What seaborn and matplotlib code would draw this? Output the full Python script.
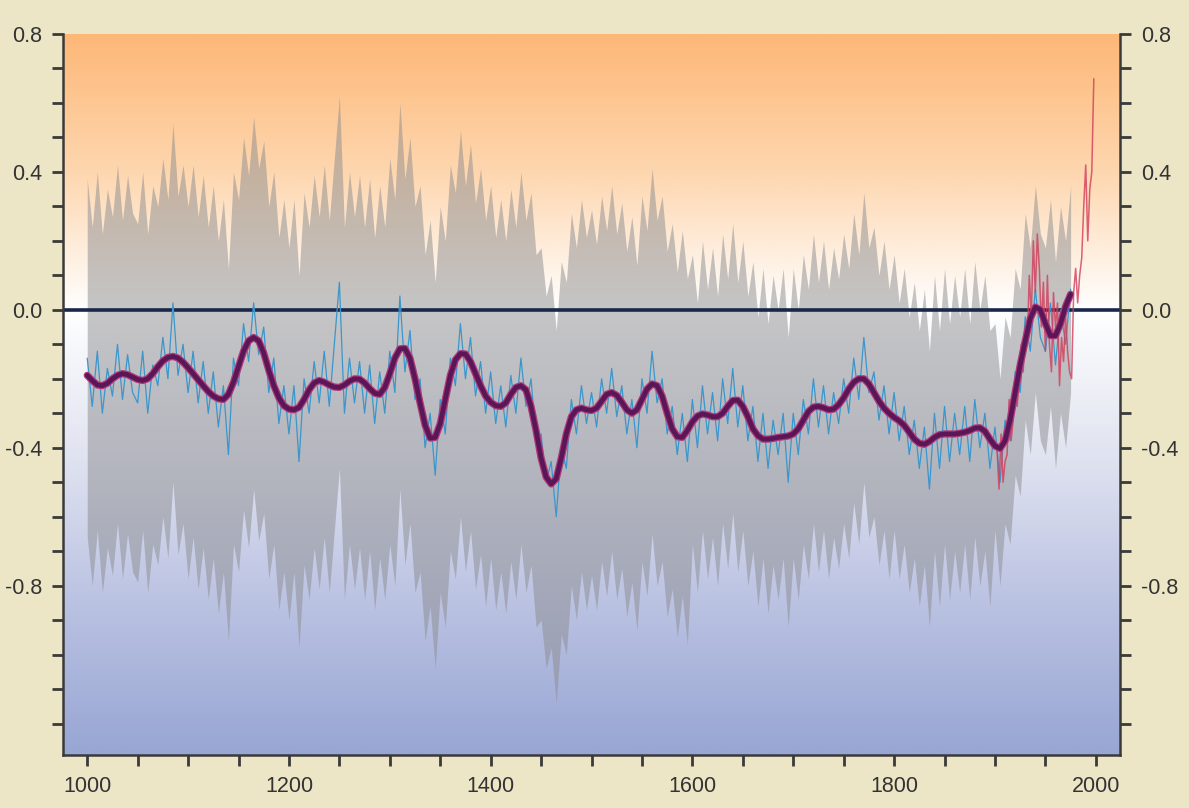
import matplotlib
matplotlib.use("Agg")
import matplotlib.pyplot as plt
import seaborn as sns
import numpy as np
import pandas as pd
from matplotlib.colors import LinearSegmentedColormap
from matplotlib.ticker import MultipleLocator

# Reconstruction (annual series sampled every 5 years), 1000-1975
recon_years = list(range(1000, 1980, 5))
recon_values = [
    -0.14, -0.28, -0.12, -0.30, -0.17, -0.25, -0.10, -0.26, -0.13, -0.24,
    -0.27, -0.12, -0.30, -0.16, -0.22, -0.08, -0.20, 0.02, -0.19, -0.10,
    -0.24, -0.12, -0.27, -0.15, -0.30, -0.18, -0.34, -0.22, -0.42, -0.14,
    -0.22, -0.04, -0.15, 0.02, -0.13, -0.05, -0.24, -0.14, -0.33, -0.22,
    -0.36, -0.22, -0.44, -0.20, -0.30, -0.15, -0.27, -0.12, -0.28, -0.10,
    0.08, -0.30, -0.14, -0.27, -0.15, -0.30, -0.16, -0.33, -0.18, -0.30,
    -0.12, -0.24, 0.04, -0.18, -0.06, -0.26, -0.20, -0.40, -0.30, -0.48,
    -0.26, -0.36, -0.14, -0.22, -0.04, -0.20, -0.08, -0.25, -0.15, -0.30,
    -0.18, -0.33, -0.22, -0.34, -0.19, -0.30, -0.14, -0.28, -0.20, -0.38,
    -0.36, -0.50, -0.44, -0.60, -0.40, -0.46, -0.26, -0.36, -0.22, -0.33,
    -0.24, -0.34, -0.20, -0.30, -0.17, -0.31, -0.22, -0.36, -0.26, -0.40,
    -0.20, -0.30, -0.12, -0.27, -0.20, -0.36, -0.28, -0.42, -0.30, -0.44,
    -0.26, -0.40, -0.22, -0.36, -0.24, -0.38, -0.20, -0.33, -0.17, -0.34,
    -0.22, -0.38, -0.28, -0.44, -0.30, -0.46, -0.32, -0.42, -0.30, -0.50,
    -0.30, -0.42, -0.26, -0.36, -0.20, -0.34, -0.22, -0.36, -0.24, -0.33,
    -0.20, -0.30, -0.14, -0.26, -0.08, -0.24, -0.18, -0.32, -0.22, -0.36,
    -0.24, -0.38, -0.28, -0.42, -0.32, -0.46, -0.34, -0.52, -0.30, -0.46,
    -0.28, -0.44, -0.30, -0.42, -0.28, -0.44, -0.26, -0.40, -0.30, -0.46,
    -0.34, -0.50, -0.32, -0.38, -0.18, -0.24, -0.02, -0.12, 0.06, -0.08,
    -0.12, 0.02, -0.16, 0.00, -0.10, 0.06,
]

# 2-sigma half width of the uncertainty band, per century
band_centuries = [1000, 1100, 1200, 1300, 1400, 1500, 1600, 1700, 1800, 1900]
band_halfwidth = [0.52, 0.54, 0.54, 0.56, 0.54, 0.53, 0.42, 0.42, 0.40, 0.30]

# 40-year smoothed reconstruction, every 5 years
smooth_years = list(range(1000, 1980, 5))
smooth_values = [
    -0.190, -0.205, -0.218, -0.220, -0.213, -0.200, -0.190, -0.185, -0.188, -0.195,
    -0.202, -0.205, -0.200, -0.185, -0.165, -0.148, -0.138, -0.135, -0.140, -0.152,
    -0.168, -0.185, -0.203, -0.220, -0.237, -0.250, -0.258, -0.260, -0.245, -0.210,
    -0.165, -0.120, -0.090, -0.080, -0.090, -0.125, -0.175, -0.220, -0.255, -0.278,
    -0.288, -0.290, -0.283, -0.260, -0.232, -0.212, -0.205, -0.210, -0.218, -0.224,
    -0.225, -0.218, -0.207, -0.200, -0.201, -0.212, -0.228, -0.242, -0.245, -0.225,
    -0.185, -0.140, -0.113, -0.112, -0.140, -0.200, -0.270, -0.335, -0.372, -0.370,
    -0.330, -0.260, -0.190, -0.145, -0.127, -0.128, -0.150, -0.185, -0.220, -0.250,
    -0.268, -0.278, -0.280, -0.270, -0.245, -0.225, -0.220, -0.232, -0.280, -0.350,
    -0.430, -0.485, -0.505, -0.490, -0.430, -0.360, -0.310, -0.290, -0.285, -0.290,
    -0.292, -0.285, -0.265, -0.245, -0.240, -0.248, -0.268, -0.290, -0.300, -0.290,
    -0.260, -0.230, -0.215, -0.220, -0.250, -0.300, -0.345, -0.368, -0.370, -0.350,
    -0.325, -0.308, -0.302, -0.305, -0.310, -0.310, -0.300, -0.280, -0.263, -0.262,
    -0.280, -0.310, -0.345, -0.365, -0.375, -0.375, -0.373, -0.370, -0.368, -0.366,
    -0.360, -0.345, -0.320, -0.295, -0.282, -0.280, -0.284, -0.290, -0.288, -0.275,
    -0.255, -0.230, -0.210, -0.200, -0.200, -0.215, -0.240, -0.265, -0.285, -0.300,
    -0.312, -0.322, -0.335, -0.355, -0.375, -0.387, -0.390, -0.382, -0.370, -0.362,
    -0.360, -0.360, -0.360, -0.358, -0.355, -0.350, -0.343, -0.342, -0.352, -0.375,
    -0.395, -0.402, -0.380, -0.320, -0.240, -0.160, -0.090, -0.025, 0.008, 0.000,
    -0.040, -0.075, -0.075, -0.040, 0.010, 0.045,
]

# Instrumental record
instr_years = list(range(1902, 2000, 2))
instr_values = [
    -0.40, -0.52, -0.36, -0.50, -0.44, -0.42, -0.26, -0.38, -0.32, -0.24,
    -0.28, -0.20, -0.10, -0.18, -0.05, -0.10, 0.10, -0.02, 0.20, 0.05,
    0.22, 0.12, -0.05, 0.08, -0.12, 0.10, -0.10, -0.18, 0.05, -0.05,
    0.02, -0.22, -0.08, -0.15, -0.02, -0.12, -0.18, -0.20, 0.05, 0.12,
    0.02, 0.10, 0.15, 0.30, 0.42, 0.20, 0.35, 0.40, 0.67,
]

recon = pd.DataFrame({"year": recon_years, "anomaly": recon_values})
idx = (recon["year"] - 1000) // 100
recon["sigma"] = np.array(band_halfwidth)[idx]
smooth = pd.DataFrame({"year": smooth_years, "anomaly": smooth_values})
instr = pd.DataFrame({"year": instr_years, "anomaly": instr_values})

sns.set_style("ticks")
plt.rcParams["font.family"] = ["Liberation Sans Narrow", "Liberation Sans", "DejaVu Sans"]

fig = plt.figure(figsize=(11.89, 8.08), dpi=100, facecolor="#ece6c6")
ax = fig.add_axes([0.053, 0.066, 0.889, 0.892])

x0, x1 = 976, 2024
y0, y1 = -1.29, 0.8

# gradient background
stops = [(0.8, "#fdb878"), (0.4, "#fed7b0"), (0.15, "#fef0e2"), (0.0, "#ffffff"),
         (-0.4, "#e2e5f1"), (-0.8, "#bfc6e4"), (-1.29, "#98a6d4")]
cmap = LinearSegmentedColormap.from_list(
    "bg", [((v - y0) / (y1 - y0), c) for v, c in sorted(stops)])
grad = np.linspace(y0, y1, 300).reshape(-1, 1)
ax.imshow(grad, extent=[x0, x1, y0, y1], origin="lower", aspect="auto",
          cmap=cmap, vmin=y0, vmax=y1, zorder=0)

# uncertainty band
ax.fill_between(recon["year"], recon["anomaly"] - recon["sigma"],
                recon["anomaly"] + recon["sigma"], color="#8c8c8f",
                alpha=0.5, lw=0, zorder=1)

ax.axhline(0, color="#18284a", lw=2.6, zorder=2)

sns.lineplot(data=recon, x="year", y="anomaly", ax=ax, color="#3a96cc",
             lw=0.9, zorder=3)
sns.lineplot(data=instr, x="year", y="anomaly", ax=ax, color="#d23c5a",
             lw=1.1, alpha=0.8, zorder=4)
sns.lineplot(data=smooth, x="year", y="anomaly", ax=ax, color="#b0397a",
             lw=5.2, zorder=5, solid_joinstyle="round", solid_capstyle="round")
sns.lineplot(data=smooth, x="year", y="anomaly", ax=ax, color="#5a1656",
             lw=3.4, zorder=6, solid_joinstyle="round", solid_capstyle="round")

ax.set_xlim(x0, x1)
ax.set_ylim(y0, y1)
ax.set_xlabel("")
ax.set_ylabel("")
ax.set_xticks([1000, 1200, 1400, 1600, 1800, 2000])
ax.xaxis.set_minor_locator(MultipleLocator(50))
ax.set_yticks([-0.8, -0.4, 0.0, 0.4, 0.8])
ax.set_yticklabels(["-0.8", "-0.4", "0.0", "0.4", "0.8"])
ax.yaxis.set_minor_locator(MultipleLocator(0.1))

ax.spines["top"].set_visible(False)
for s in ["left", "right", "bottom"]:
    ax.spines[s].set_visible(True)
    ax.spines[s].set_color("#3a3a3a")
    ax.spines[s].set_linewidth(1.8)
    ax.spines[s].set_zorder(7)

ax.tick_params(which="both", direction="out", length=8, width=2,
               color="#3a3a3a", left=True, right=True, labelright=True,
               bottom=True, top=False)
ax.tick_params(which="major", labelsize=15.5, labelcolor="#333333", pad=7)

fig.savefig("out.png", dpi=100, facecolor=fig.get_facecolor())
